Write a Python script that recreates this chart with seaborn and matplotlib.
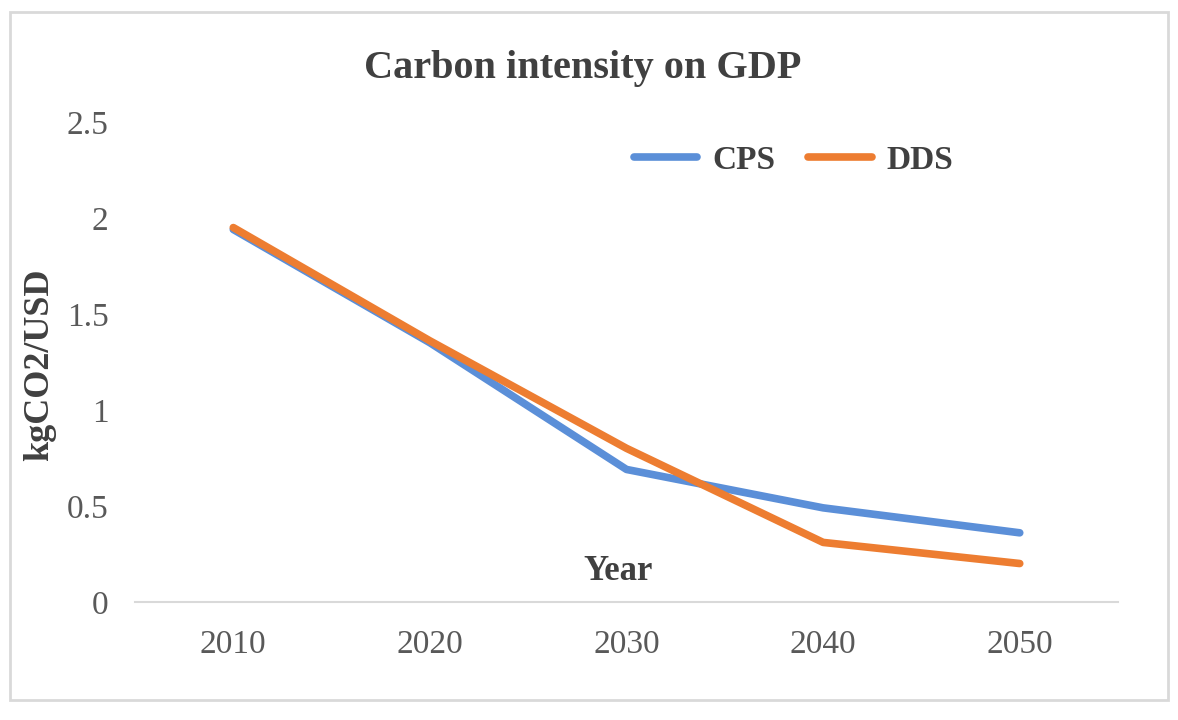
import pandas as pd
import numpy as np
import matplotlib.pyplot as plt
import matplotlib.patches as patches
import seaborn as sns

years = ['2010', '2020', '2030', '2040', '2050']
cps = [1.94, 1.35, 0.69, 0.49, 0.36]
dds = [1.95, 1.36, 0.80, 0.31, 0.20]
series_names = ['CPS', 'DDS']
colors = ['#5B8FD8', '#ED7D31']

df = pd.DataFrame({
    'Year': years * 2,
    'value': cps + dds,
    'scenario': [series_names[0]] * len(years) + [series_names[1]] * len(years),
})

sns.set_style('white')
plt.rcParams['font.family'] = ['Liberation Serif', 'DejaVu Serif']

fig = plt.figure(figsize=(11.78, 7.2), dpi=100)
ax = fig.add_axes([0.1146, 0.164, 0.8345, 0.6666])

sns.lineplot(data=df, x='Year', y='value', hue='scenario', palette=colors,
             linewidth=5.5, ax=ax, sort=False, legend=True)

ax.set_xlim(-0.5, 4.5)
ax.set_ylim(0, 2.5)
ax.set_yticks([0, 0.5, 1, 1.5, 2, 2.5])
ax.set_yticklabels(['0', '0.5', '1', '1.5', '2', '2.5'])
ax.tick_params(axis='both', labelsize=24, colors='#595959', length=0)
ax.tick_params(axis='x', pad=20)
ax.tick_params(axis='y', pad=19)

for s in ['top', 'right', 'left']:
    ax.spines[s].set_visible(False)
ax.spines['bottom'].set_color('#d9d9d9')
ax.spines['bottom'].set_linewidth(1.5)

ax.set_xlabel('')
ax.set_ylabel('')
ax.text(0.491, 0.064, 'Year', transform=ax.transAxes, ha='center', va='center',
        fontsize=25, fontweight='bold', color='#404040')
fig.text(0.034, 0.493, 'kgCO2/USD', rotation=90, ha='center', va='center',
         fontsize=26, fontweight='bold', color='#404040')
fig.text(0.495, 0.905, 'Carbon intensity on GDP', ha='center', va='center',
         fontsize=29, fontweight='bold', color='#404040')

leg = ax.legend(loc='center', bbox_to_anchor=(0.67, 0.92), ncol=2, frameon=False,
                fontsize=24, handlelength=1.9, columnspacing=1.0, handletextpad=0.45)
for t in leg.get_texts():
    t.set_fontweight('bold')
    t.set_color('#404040')

fig.patches.append(patches.Rectangle((0.0085, 0.028), 0.983, 0.955, transform=fig.transFigure,
                                     fill=False, edgecolor='#d9d9d9', linewidth=2))

fig.savefig('out.png', dpi=100)
